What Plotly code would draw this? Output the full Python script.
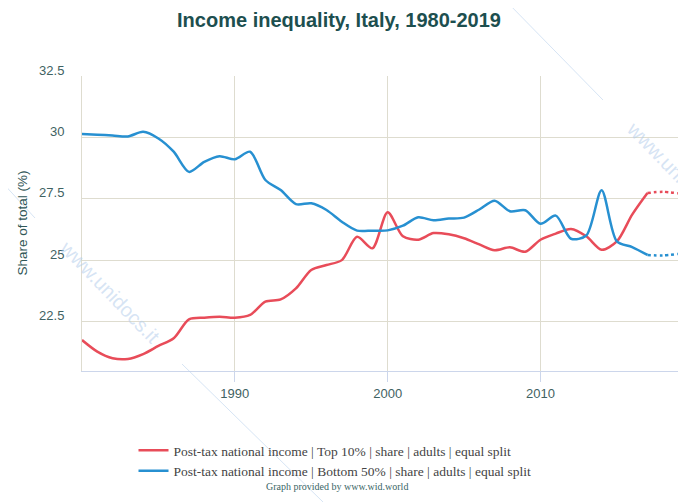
import plotly.graph_objects as go

# Data (share of post-tax national income, %)
years = list(range(1980, 2020))

top10 = [21.76, 21.29, 21.02, 20.99, 21.19, 21.52, 21.83, 22.60, 22.67, 22.71,
         22.67, 22.78, 23.32, 23.41, 23.86, 24.61, 24.81, 25.01, 25.96, 25.49,
         26.96, 25.98, 25.84, 26.11, 26.06, 25.90, 25.65, 25.41, 25.53, 25.35,
         25.84, 26.09, 26.28, 25.98, 25.43, 25.77, 26.86, 27.74, 27.79, 27.73]

bottom50 = [30.14, 30.11, 30.08, 30.04, 30.23, 29.96, 29.42, 28.60, 29.01, 29.24,
            29.11, 29.42, 28.27, 27.86, 27.29, 27.32, 27.05, 26.57, 26.21, 26.21,
            26.22, 26.41, 26.75, 26.63, 26.70, 26.74, 27.07, 27.43, 27.00, 27.04,
            26.49, 26.82, 25.88, 26.01, 27.85, 25.77, 25.54, 25.22, 25.20, 25.26]

# last observed year; later years are drawn dotted
last_obs = 2017

y_ticks = [22.5, 25, 27.5, 30, 32.5]
y_labels = ["22.5", "25", "27.5", "30", "32.5"]
x_ticks = [1990, 2000, 2010]
x_labels = ["1990", "2000", "2010"]

series = [
    ("Post-tax national income | Top 10% | share | adults | equal split", top10, "#e84c59"),
    ("Post-tax national income | Bottom 50% | share | adults | equal split", bottom50, "#2790d1"),
]

fig = go.Figure()
cut = years.index(last_obs) + 1
for name, vals, color in series:
    fig.add_trace(go.Scatter(
        x=years[:cut], y=vals[:cut], name=name, mode="lines",
        line=dict(color=color, width=2.5, shape="spline", smoothing=0.8),
    ))
    fig.add_trace(go.Scatter(
        x=years[cut - 1:], y=vals[cut - 1:], name=name, mode="lines", showlegend=False,
        line=dict(color=color, width=2.5, dash="dot", shape="spline", smoothing=0.8),
    ))

# the page body adds an 8px offset, so the figure is 8px smaller than the window
W, H, OFF = 678, 494, 8
grid = "#dedccf"
tick_font = dict(family="Liberation Sans, Arial, sans-serif", size=13, color="#3f6262")

fig.update_layout(
    width=W, height=H,
    margin=dict(l=82 - OFF, r=8, t=76 - OFF, b=131, autoexpand=False),
    paper_bgcolor="white", plot_bgcolor="white",
    title=dict(
        text="<b>Income inequality, Italy, 1980-2019</b>",
        x=(339 - OFF) / W, xanchor="center", y=1 - (20 - OFF) / H, yanchor="middle",
        font=dict(family="Liberation Sans, Arial, sans-serif", size=20, color="#1d4f4f"),
    ),
    showlegend=True,
    legend=dict(
        orientation="v", xref="container", x=(335 - OFF) / W, xanchor="center",
        yref="container", y=1 - (461 - OFF) / H, yanchor="middle",
        font=dict(family="Liberation Serif, Times New Roman, serif", size=13.5, color="#444444"),
        tracegroupgap=0, itemwidth=30, bgcolor="rgba(0,0,0,0)",
    ),
    xaxis=dict(
        range=[1980, 2019], tickvals=x_ticks, ticktext=x_labels,
        showgrid=True, gridcolor=grid, gridwidth=1,
        showline=True, linecolor="#ccd6eb", linewidth=1,
        ticks="outside", ticklen=10, tickcolor="#ccd6eb",
        tickfont=tick_font, zeroline=False, automargin=False,
    ),
    yaxis=dict(
        range=[20.5, 32.5], tickvals=y_ticks, ticktext=y_labels,
        showgrid=True, gridcolor=grid, gridwidth=1,
        showline=True, linecolor=grid, linewidth=1,
        ticks="", tickfont=tick_font, zeroline=False, automargin=False,
        ticklabelstandoff=14, ticklabelshift=-6,
    ),
)


# pixel positions (in the reference picture) converted to paper coordinates
def px(x):
    return (x - 82) / 596


def py(y):
    return (371 - y) / 295


# y axis title
fig.add_annotation(
    text="Share of total (%)", xref="paper", yref="paper",
    x=px(22), y=0.5, xanchor="center", yanchor="middle",
    textangle=-90, showarrow=False,
    font=dict(family="Liberation Sans, Arial, sans-serif", size=13.5, color="#2f5656"),
)

# credit line
fig.add_annotation(
    text="Graph provided by www.wid.world", xref="paper", yref="paper",
    x=px(337), y=py(486), xanchor="center", yanchor="middle", showarrow=False,
    font=dict(family="Liberation Serif, Times New Roman, serif", size=10, color="#3a6666"),
)

# faint watermark
wm_color = "rgba(180,205,235,0.55)"
for x0, y0, x1, y1 in [(0, 180, 35, 218), (182, 364, 323, 502), (505, 0, 603, 100)]:
    fig.add_shape(type="line", xref="paper", yref="paper",
                  x0=px(x0), y0=py(y0), x1=px(x1), y1=py(y1),
                  line=dict(color=wm_color, width=1), layer="above")
for cx, cy in [(110, 292), (677, 173)]:
    fig.add_annotation(
        text="www.unidocs.it", xref="paper", yref="paper", x=px(cx), y=py(cy),
        xanchor="center", yanchor="middle", textangle=46, showarrow=False,
        font=dict(family="Liberation Sans, Arial, sans-serif", size=20, color=wm_color),
    )

fig.write_html("out.html")
